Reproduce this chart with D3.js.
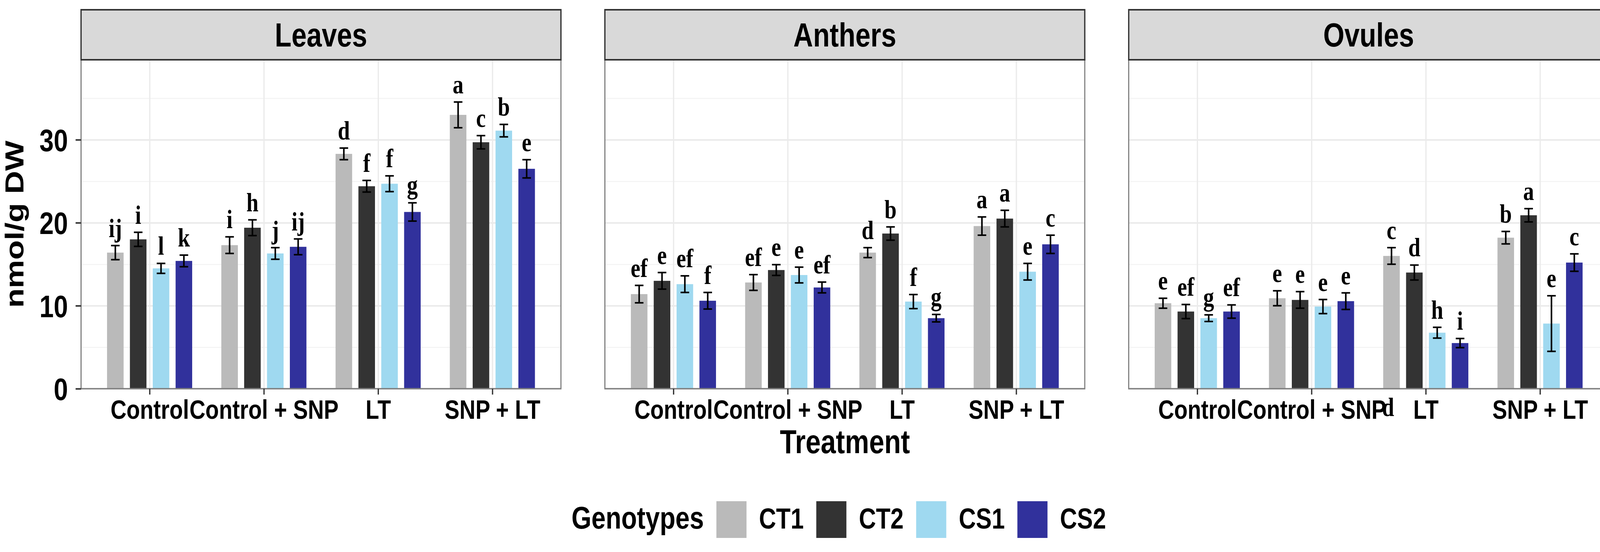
<!DOCTYPE html>
<html>
<head>
<meta charset="utf-8">
<script src="https://cdn.jsdelivr.net/npm/d3@7"></script>
<style>
  body { margin: 0; background: #fff; }
  text { font-family: "Liberation Sans", Arial, sans-serif; }
</style>
</head>
<body>
<svg id="chart" width="4130" height="1413"></svg>
<script>
// ---- data ----
const tissues = ["Leaves", "Anthers", "Ovules"];
const treatments = ["Control", "Control + SNP", "LT", "SNP + LT"];
const genotypes = ["CT1", "CT2", "CS1", "CS2"];
const genoColors = ["#bababa", "#333333", "#9fd9f0", "#31319c"];
const yTicks = [0, 10, 20, 30];
const yMinorTicks = [5, 15, 25, 35];

// rows = treatment, columns = genotype
const leavesMean = [[16.4, 18.0, 14.5, 15.4], [17.3, 19.4, 16.3, 17.1], [28.3, 24.4, 24.7, 21.3], [33.0, 29.7, 31.1, 26.5]];
const leavesSE = [[0.85, 0.85, 0.6, 0.7], [1.0, 0.95, 0.7, 0.95], [0.7, 0.7, 0.95, 1.1], [1.55, 0.8, 0.75, 1.1]];
const leavesLetters = [["ij", "i", "l", "k"], ["i", "h", "j", "ij"], ["d", "f", "f", "g"], ["a", "c", "b", "e"]];

const anthersMean = [[11.4, 13.0, 12.6, 10.6], [12.8, 14.3, 13.7, 12.2], [16.4, 18.7, 10.5, 8.5], [19.6, 20.5, 14.1, 17.4]];
const anthersSE = [[1.05, 1.0, 1.0, 1.0], [0.95, 0.65, 0.95, 0.65], [0.6, 0.8, 0.85, 0.45], [1.1, 1.0, 1.0, 1.1]];
const anthersLetters = [["ef", "e", "ef", "f"], ["ef", "e", "e", "ef"], ["d", "b", "f", "g"], ["a", "a", "e", "c"]];

const ovulesMean = [[10.3, 9.3, 8.5, 9.3], [10.9, 10.7, 9.9, 10.55], [16.0, 14.0, 6.75, 5.5], [18.2, 20.9, 7.85, 15.2]];
const ovulesSE = [[0.6, 0.85, 0.4, 0.8], [0.9, 1.0, 0.85, 1.0], [1.0, 0.9, 0.65, 0.55], [0.75, 0.8, 3.35, 1.05]];
const ovulesLetters = [["e", "ef", "g", "ef"], ["e", "e", "e", "e"], ["c", "d", "h", "i"], ["b", "a", "e", "c"]];

const means = [leavesMean, anthersMean, ovulesMean];
const ses = [leavesSE, anthersSE, ovulesSE];
const letters = [leavesLetters, anthersLetters, ovulesLetters];

// ---- layout ----
// the whole figure is squeezed horizontally, so draw wide and scale x
const SX = 0.82;
const panelLeft0 = 207.5 / SX, panelStep = 1341 / SX, panelW = 1228.5 / SX;
const stripTop = 25, plotTop = 153, plotBottom = 995;

const svg = d3.select("#chart");
svg.append("rect").attr("width", 4130).attr("height", 1413).attr("fill", "#fff");
const root = svg.append("g").attr("transform", `scale(${SX},1)`);

const x = d3.scalePoint().domain(treatments).range([0, panelW]).padding(0.6);
const step = x.step();
const xg = d3.scaleBand().domain(genotypes)
    .range([-0.4 * step, 0.4 * step])
    .paddingInner(0.275).paddingOuter(0.1375);
const y = d3.scaleLinear().domain([0, 39.64]).range([plotBottom, plotTop]);

tissues.forEach((tissue, ti) => {
    const left = panelLeft0 + ti * panelStep;
    const pg = root.append("g").attr("transform", `translate(${left},0)`);

    // grid
    pg.append("g")
        .call(d3.axisLeft(y).tickValues(yMinorTicks).tickSize(-panelW).tickFormat(""))
        .call(g => g.select(".domain").remove())
        .selectAll("line").attr("stroke", "#f3f3f3").attr("stroke-width", 2.5);
    pg.append("g")
        .call(d3.axisLeft(y).tickValues(yTicks).tickSize(-panelW).tickFormat(""))
        .call(g => g.select(".domain").remove())
        .selectAll("line").attr("stroke", "#e8e8e8").attr("stroke-width", 3.5);
    pg.append("g")
        .attr("transform", `translate(0,${plotBottom})`)
        .call(d3.axisBottom(x).tickSize(-(plotBottom - plotTop)).tickFormat(""))
        .call(g => g.select(".domain").remove())
        .selectAll("line").attr("stroke", "#ebebeb").attr("stroke-width", 4);

    // bars
    const rows = [];
    treatments.forEach((tr, i) => genotypes.forEach((ge, j) => {
        rows.push({ tr, ge, j, mean: means[ti][i][j], se: ses[ti][i][j], lab: letters[ti][i][j] });
    }));
    const cx = d => x(d.tr) + xg(d.ge) + xg.bandwidth() / 2;

    pg.selectAll("rect.bar").data(rows).join("rect")
        .attr("class", "bar")
        .attr("x", d => x(d.tr) + xg(d.ge))
        .attr("width", xg.bandwidth())
        .attr("y", d => y(d.mean))
        .attr("height", d => y(0) - y(d.mean))
        .attr("fill", d => genoColors[d.j]);

    // error bars
    const cap = 11 / SX;
    const eb = pg.selectAll("g.err").data(rows).join("g").attr("class", "err")
        .attr("stroke", "#000").attr("stroke-width", 4);
    eb.append("line").attr("x1", cx).attr("x2", cx)
        .attr("y1", d => y(d.mean - d.se)).attr("y2", d => y(d.mean + d.se))
        .attr("stroke-width", 4 / SX);
    eb.append("line").attr("x1", d => cx(d) - cap).attr("x2", d => cx(d) + cap)
        .attr("y1", d => y(d.mean + d.se)).attr("y2", d => y(d.mean + d.se));
    eb.append("line").attr("x1", d => cx(d) - cap).attr("x2", d => cx(d) + cap)
        .attr("y1", d => y(d.mean - d.se)).attr("y2", d => y(d.mean - d.se));

    // significance letters
    pg.selectAll("text.sig").data(rows).join("text")
        .attr("class", "sig")
        .attr("x", cx)
        .attr("y", d => y(d.mean + d.se) - 22)
        .attr("text-anchor", "middle")
        .style("font-family", "'Liberation Serif', 'Times New Roman', serif")
        .style("font-weight", "bold")
        .style("font-size", "68px")
        .text(d => d.lab);

    // panel border
    pg.append("rect")
        .attr("x", 0).attr("y", plotTop)
        .attr("width", panelW).attr("height", plotBottom - plotTop)
        .attr("fill", "none").attr("stroke", "#7f7f7f").attr("stroke-width", 3.5);

    // strip
    pg.append("rect")
        .attr("x", 0).attr("y", stripTop)
        .attr("width", panelW).attr("height", plotTop - stripTop)
        .attr("fill", "#d9d9d9").attr("stroke", "#333").attr("stroke-width", 4);
    pg.append("text")
        .attr("x", panelW / 2).attr("y", 119)
        .attr("text-anchor", "middle")
        .style("font-weight", "bold").style("font-size", "85px")
        .text(tissue);

    // x axis
    const xa = pg.append("g")
        .attr("transform", `translate(0,${plotBottom})`)
        .call(d3.axisBottom(x).tickSize(15).tickSizeOuter(0));
    xa.select(".domain").remove();
    xa.selectAll("line").attr("stroke", "#333").attr("stroke-width", 4);
    xa.selectAll("text")
        .attr("y", 77).attr("dy", null)
        .attr("fill", "#000")
        .style("font-family", "'Liberation Sans', Arial, sans-serif")
        .style("font-weight", "bold").style("font-size", "69px");

    // y axis only on the first panel
    if (ti === 0) {
        const ya = pg.append("g")
            .call(d3.axisLeft(y).tickValues(yTicks).tickSize(17).tickPadding(24));
        ya.select(".domain").remove();
        ya.selectAll("line").attr("stroke", "#333").attr("stroke-width", 4);
        ya.selectAll("text")
            .attr("dy", "0.36em")
            .attr("fill", "#000")
            .style("font-family", "'Liberation Sans', Arial, sans-serif")
            .style("font-weight", "bold").style("font-size", "80px");
    }

    // stray letter printed over the Ovules axis labels
    if (tissue === "Ovules") {
        pg.append("text")
            .attr("x", x("Control + SNP") + 0.67 * step)
            .attr("y", plotBottom + 70)
            .attr("text-anchor", "middle")
            .style("font-family", "'Liberation Serif', 'Times New Roman', serif")
            .style("font-weight", "bold").style("font-size", "68px")
            .text("d");
    }
});

// axis titles
root.append("text")
    .attr("x", 2163 / SX).attr("y", 1160)
    .attr("text-anchor", "middle")
    .style("font-weight", "bold").style("font-size", "85px")
    .text("Treatment");

root.append("text")
    .attr("transform", `translate(${60 / SX},${(plotTop + plotBottom) / 2}) rotate(-90)`)
    .attr("text-anchor", "middle")
    .style("font-weight", "bold").style("font-size", "82px")
    .text("nmol/g DW");

// legend
const legend = root.append("g");
let lx = 1463 / SX;
const legTitle = legend.append("text")
    .attr("x", lx).attr("y", 1353)
    .style("font-weight", "bold").style("font-size", "80px")
    .text("Genotypes");
lx += legTitle.node().getComputedTextLength() + 32 / SX;
genotypes.forEach((ge, j) => {
    legend.append("rect")
        .attr("x", lx).attr("y", 1283)
        .attr("width", 94).attr("height", 94)
        .attr("fill", genoColors[j]);
    lx += 94 + 32 / SX;
    const t = legend.append("text")
        .attr("x", lx).attr("y", 1353)
        .style("font-weight", "bold").style("font-size", "74px")
        .text(ge);
    lx += t.node().getComputedTextLength() + 32 / SX;
});
</script>
</body>
</html>
